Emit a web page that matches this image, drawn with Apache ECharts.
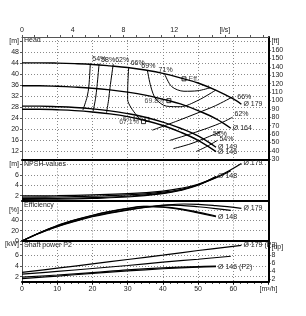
<!DOCTYPE html>
<html>
<head>
<meta charset="utf-8">
<script src="https://cdn.jsdelivr.net/npm/echarts@6/dist/echarts.min.js"></script>
<style>
  html, body { margin: 0; padding: 0; background: #fff; }
  #chart { width: 306px; height: 316px; }
</style>
</head>
<body>
<div id="chart"></div>
<script>
// pump curve data (Q in m3/h)

// head curves [m]
const q179 = [0, 5, 10, 15, 20, 25, 30, 35, 40, 46, 50, 55, 60, 62.3];
const h179 = [44.1, 44.1, 44.0, 43.8, 43.5, 43.0, 42.4, 41.5, 40.3, 38.3, 36.8, 34.2, 31.0, 29.1];
const q164 = [0, 5, 10, 15, 20, 25, 30, 35, 41.7, 45, 50, 55, 59.3];
const h164 = [35.8, 35.8, 35.6, 35.3, 34.9, 34.3, 33.5, 32.4, 30.4, 29.2, 26.8, 23.9, 20.4];
const q149 = [0, 5, 10, 15, 20, 25, 30, 35, 40, 45, 50, 55.1];
const h149 = [28.4, 28.4, 28.2, 27.9, 27.4, 26.7, 25.7, 24.4, 22.6, 20.4, 17.6, 13.5];
const q146 = [0, 5, 10, 15, 20, 25, 30, 35, 40, 45, 50, 55.1];
const h146 = [27.3, 27.3, 27.1, 26.8, 26.3, 25.6, 24.6, 23.2, 21.4, 19.0, 16.0, 11.9];

// iso-efficiency lines in the head panel (last point carries the label)
const iso54L = { q: [17.3, 18.5, 19.0, 19.4], h: [27.0, 31.8, 35.8, 43.9], label: '54%' };
const iso58L = { q: [20.2, 20.9, 21.3, 21.9], h: [26.6, 31.3, 35.6, 43.8], label: '58%' };
const iso62L = { q: [24.0, 24.6, 25.0, 25.9], h: [26.0, 30.8, 35.2, 43.6], label: '62%' };
const iso66L = { q: [33.5, 31.0, 30.0, 30.0, 30.3], h: [23.5, 27.8, 30.8, 33.6, 42.5], label: '66%' };
const iso69 = { q: [55.0, 50.0, 45.0, 41.0, 38.0, 36.6, 35.6], h: [34.2, 30.5, 28.2, 28.4, 31.0, 35.4, 41.4], label: '69%' };
const iso71 = { q: [53.5, 50.0, 46.0, 42.5, 40.5], h: [35.1, 34.0, 33.8, 35.5, 40.1], label: '71%' };
const iso66R = { q: [37.0, 44.0, 50.0, 55.0, 60.0], h: [19.7, 23.0, 26.0, 28.6, 31.9], label: '66%' };
const iso62R = { q: [42.0, 48.0, 53.0, 57.0, 59.8], h: [16.0, 18.4, 20.6, 22.6, 24.4], label: '62%' };
const iso58R = { q: [43.0, 48.0, 52.0, 56.5], h: [13.0, 14.8, 16.8, 19.2], label: '58%' };
const iso54R = { q: [49.5, 52.5, 55.5], h: [12.0, 13.8, 16.0], label: '54%' };

// best efficiency points
const bepQ = [46.0, 41.7, 35.5, 34.5];
const bepH = [38.3, 30.4, 23.6, 22.8];
const bepText = ['Eff.', '69.8%', '67.1%', '67.1%'];

// NPSH [m]
const qN179 = [0, 10, 20, 30, 40, 45, 50, 55, 58, 62.3];
const n179 = [1.95, 2.0, 2.15, 2.4, 2.9, 3.4, 4.2, 5.5, 6.5, 8.2];
const qN164 = [0, 10, 20, 30, 40, 45, 50, 55, 59.3];
const n164 = [1.7, 1.75, 1.9, 2.15, 2.7, 3.2, 4.1, 5.4, 6.8];
const qN149 = [0, 10, 20, 30, 40, 45, 50, 55.1];
const n149 = [1.45, 1.5, 1.65, 1.9, 2.5, 3.1, 4.1, 5.7];
const qN146 = [0, 10, 20, 30, 40, 45, 50, 55.1];
const n146 = [1.3, 1.35, 1.5, 1.75, 2.4, 3.0, 4.0, 5.7];

// efficiency [%]
const qE179 = [0, 5, 10, 15, 20, 25, 30, 35, 40, 46, 50, 55, 62.3];
const e179 = [0, 15, 28, 38, 47, 54, 60, 65, 69, 71.8, 71.2, 68.5, 63.5];
const qE164 = [0, 5, 10, 15, 20, 25, 30, 35, 41.7, 45, 50, 55, 59.3];
const e164 = [0, 15.5, 28.5, 39, 48, 55, 61, 65.8, 69.8, 69.3, 66.5, 63, 59.5];
const qE149 = [0, 5, 10, 15, 20, 25, 30, 35.5, 40, 45, 50, 55.1];
const e149 = [0, 16, 29.5, 40.5, 49.5, 57, 63, 67.1, 66.2, 62.5, 56, 48.5];
const qE146 = [0, 5, 10, 15, 20, 25, 30, 34.5, 40, 45, 50, 55.1];
const e146 = [0, 16, 30, 41, 50, 57.5, 63.5, 67.1, 65.5, 61.5, 54.5, 47];

// shaft power P2 [kW]
const qP179 = [0, 10, 20, 30, 40, 50, 62.3];
const p179 = [2.8, 3.55, 4.35, 5.15, 5.95, 6.8, 7.75];
const qP164 = [0, 10, 20, 30, 40, 50, 59.3];
const p164 = [2.45, 2.95, 3.5, 4.05, 4.65, 5.2, 5.75];
const qP149 = [0, 10, 20, 30, 40, 50, 55.1];
const p149 = [1.9, 2.3, 2.75, 3.25, 3.6, 3.85, 3.95];
const qP146 = [0, 10, 20, 30, 40, 50, 55.1];
const p146 = [1.65, 2.1, 2.6, 3.05, 3.45, 3.75, 3.85];

// axis ticks
const lsTicks = [0, 4, 8, 12, 16];
const headTicks = [12, 16, 20, 24, 28, 32, 36, 40, 44, 48, 52];
const ftTicks = [30, 40, 50, 60, 70, 80, 90, 100, 110, 120, 130, 140, 150, 160, 170];
const npshTicks = [2, 4, 6, 8];
const effTicks = [0, 20, 40, 60];
const powerTicks = [2, 4, 6, 8];
const hpTicks = [2, 4, 6, 8, 10];

const FT = 0.3048;
const HP = 1.341;
const headMin = 30 * FT, headMax = 175.4 * FT;
const npshMin = 1.08, npshMax = 9.0;
const effMin = 0, effMax = 78.6;
const powMin = 1.07, powMax = 8.55;

const FONT = 'Liberation Sans';
const black = '#000';
const gridDot = { type: [1, 2], color: '#8a8a8a', width: 1 };

function pairs(q, v) {
    return q.map((x, i) => [x, v[i]]);
}

const chart = echarts.init(document.getElementById('chart'));

const L = 22, W = 246.5;
const panels = [
    { top: 37, height: 122.3 },
    { top: 159.3, height: 41.2 },
    { top: 200.5, height: 40.5 },
    { top: 241, height: 40.7 }
];

const labelStyle = { fontSize: 7, color: '#222', fontFamily: FONT };

function flowAxis(idx, showLabels) {
    return {
        type: 'value', gridIndex: idx, min: 0, max: 70, interval: 10,
        axisLine: { show: true, onZero: false, lineStyle: { color: black, width: 2 } },
        axisTick: { show: showLabels, length: 3, lineStyle: { color: black } },
        minorTick: { show: showLabels, splitNumber: 5, length: 2, lineStyle: { color: black } },
        axisLabel: {
            show: showLabels, ...labelStyle, margin: 4,
            formatter: v => v === 70 ? '[m³/h]' : String(v)
        },
        splitLine: { show: true, lineStyle: gridDot }
    };
}

function leftAxis(idx, min, max, ticks, unit) {
    const top = ticks[ticks.length - 1];
    return {
        type: 'value', gridIndex: idx, min: min, max: max, position: 'left',
        axisLine: { show: true, onZero: false, lineStyle: { color: '#555', width: 1 } },
        axisTick: { show: true, length: 2, customValues: ticks, lineStyle: { color: '#555' } },
        axisLabel: {
            ...labelStyle, margin: 3, customValues: ticks,
            formatter: v => v === top ? unit : String(v)
        },
        splitLine: { show: true, lineStyle: gridDot }
    };
}

function rightAxis(idx, min, max, ticks, unit) {
    const ax = {
        type: 'value', gridIndex: idx, min: min, max: max, position: 'right',
        axisLine: { show: true, onZero: false, lineStyle: { color: black, width: 2 } },
        axisTick: { show: false },
        axisLabel: { show: false },
        splitLine: { show: false }
    };
    if (ticks) {
        const top = ticks[ticks.length - 1];
        ax.axisTick = { show: true, length: 2, customValues: ticks, lineStyle: { color: black } };
        ax.axisLabel = {
            ...labelStyle, margin: 3, customValues: ticks,
            formatter: v => v === top ? unit : String(v)
        };
    }
    return ax;
}

function curve(name, xi, yi, q, v, endText, width) {
    return {
        name: name, type: 'line', xAxisIndex: xi, yAxisIndex: yi,
        data: pairs(q, v), smooth: 0.4, showSymbol: false, silent: true,
        lineStyle: { color: black, width: width || 1.2 },
        endLabel: endText ? {
            show: true, formatter: endText, ...labelStyle, distance: 2
        } : undefined
    };
}

function iso(xi, yi, c, off) {
    return {
        type: 'line', xAxisIndex: xi, yAxisIndex: yi,
        data: pairs(c.q, c.h), smooth: 0.3, showSymbol: false, silent: true,
        lineStyle: { color: black, width: 1 },
        endLabel: { show: true, formatter: c.label, ...labelStyle, offset: off || [-6, -4] }
    };
}

const option = {
    animation: false,
    backgroundColor: '#fff',
    grid: panels.map(p => ({ left: L, width: W, top: p.top, height: p.height, containLabel: false })),
    xAxis: [
        flowAxis(0, false), flowAxis(1, false), flowAxis(2, false), flowAxis(3, true),
        {
            type: 'value', gridIndex: 0, position: 'top', min: 0, max: 70 / 3.6, interval: 4,
            axisLine: { show: true, onZero: false, lineStyle: { color: '#555', width: 1 } },
            axisTick: { show: true, length: 2, customValues: lsTicks, lineStyle: { color: '#555' } },
            minorTick: { show: true, splitNumber: 4, length: 2, lineStyle: { color: '#555' } },
            axisLabel: {
                ...labelStyle, margin: 3, customValues: lsTicks,
                formatter: v => v === 16 ? '[l/s]' : String(v)
            },
            splitLine: { show: false }
        }
    ],
    yAxis: [
        leftAxis(0, headMin, headMax, headTicks, '[m]'),
        rightAxis(0, 30, 175.4, ftTicks, '[ft]'),
        leftAxis(1, npshMin, npshMax, npshTicks, '[m]'),
        rightAxis(1, npshMin, npshMax, null),
        leftAxis(2, effMin, effMax, effTicks, '[%]'),
        rightAxis(2, effMin, effMax, null),
        leftAxis(3, powMin, powMax, powerTicks, '[kW]'),
        rightAxis(3, powMin * HP, powMax * HP, hpTicks, '[hp]')
    ],
    series: [
        curve('H179', 0, 0, q179, h179, 'Ø 179', 1.4),
        curve('H164', 0, 0, q164, h164, 'Ø 164', 1.4),
        curve('H149', 0, 0, q149, h149, 'Ø 149', 1.4),
        curve('H146', 0, 0, q146, h146, 'Ø 146', 1.4),
        iso(0, 0, iso54L), iso(0, 0, iso58L), iso(0, 0, iso62L), iso(0, 0, iso66L),
        iso(0, 0, iso69, [-14, -4]), iso(0, 0, iso71, [-14, -4]),
        iso(0, 0, iso66R, [-4, 1]), iso(0, 0, iso62R, [-6, -3]),
        iso(0, 0, iso58R, [-16, 3]), iso(0, 0, iso54R, [-6, -1]),
        {
            type: 'scatter', xAxisIndex: 0, yAxisIndex: 0, silent: true,
            symbol: 'rect', symbolSize: 4,
            itemStyle: { color: '#fff', borderColor: black, borderWidth: 1 },
            data: bepQ.map((q, i) => ({
                value: [q, bepH[i]],
                label: { show: true, formatter: bepText[i], ...labelStyle,
                         position: i === 0 ? 'right' : 'left', distance: 2 }
            }))
        },
        curve('N179', 1, 2, qN179, n179, 'Ø 179'),
        curve('N164', 1, 2, qN164, n164, null),
        curve('N149', 1, 2, qN149, n149, null),
        curve('N146', 1, 2, qN146, n146, 'Ø 148'),
        curve('E179', 2, 4, qE179, e179, 'Ø 179'),
        curve('E164', 2, 4, qE164, e164, null),
        curve('E149', 2, 4, qE149, e149, null),
        curve('E146', 2, 4, qE146, e146, 'Ø 148'),
        curve('P179', 3, 6, qP179, p179, 'Ø 179 (P2)'),
        curve('P164', 3, 6, qP164, p164, null),
        curve('P149', 3, 6, qP149, p149, null),
        curve('P146', 3, 6, qP146, p146, 'Ø 146 (P2)')
    ],
    graphic: [
        { type: 'text', left: 24, top: 37, style: { text: 'Head', fontSize: 7, fill: '#222', fontFamily: FONT } },
        { type: 'text', left: 24, top: 161, style: { text: 'NPSH-values', fontSize: 7, fill: '#222', fontFamily: FONT } },
        { type: 'text', left: 24, top: 202, style: { text: 'Efficiency', fontSize: 7, fill: '#222', fontFamily: FONT } },
        { type: 'text', left: 24, top: 242, style: { text: 'Shaft power P2', fontSize: 7, fill: '#222', fontFamily: FONT } }
    ]
};

chart.setOption(option);
</script>
</body>
</html>
